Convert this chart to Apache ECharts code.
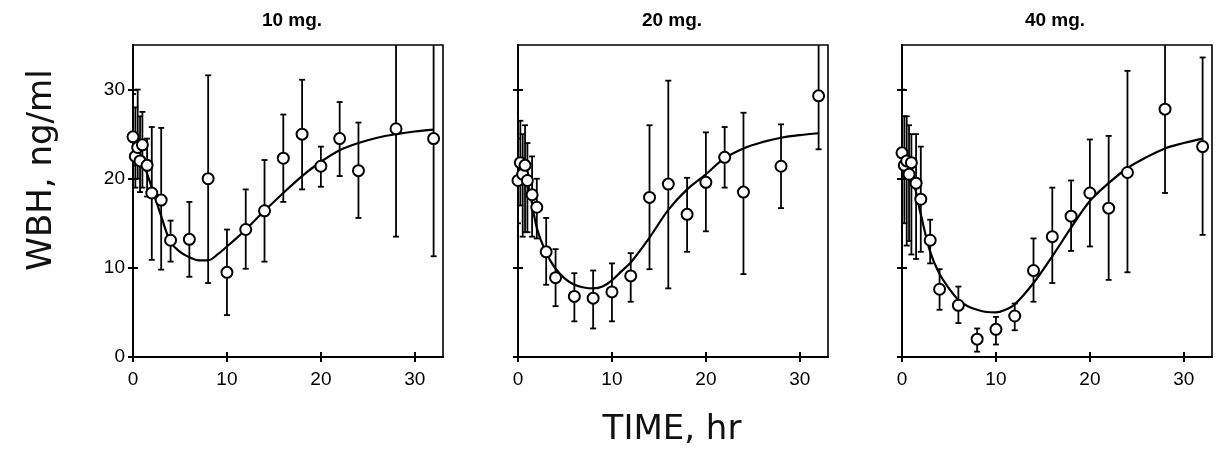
<!DOCTYPE html>
<html>
<head>
<meta charset="utf-8">
<script src="https://cdn.jsdelivr.net/npm/echarts@6/dist/echarts.min.js"></script>
<style>html,body{margin:0;padding:0;background:#fff;}#c{width:1220px;height:463px;}</style>
</head>
<body>
<div id="c"></div>
<script>
// ---- data ----
const panelTitles = ['10 mg.', '20 mg.', '40 mg.'];
const times = [0, 0.25, 0.5, 0.75, 1, 1.5, 2, 3, 4, 6, 8, 10, 12, 14, 16, 18, 20, 22, 24, 28, 32];

const mean10 = [24.7, 22.5, 23.5, 22.0, 23.8, 21.5, 18.4, 17.6, 13.1, 13.2, 20.0, 9.5, 14.3, 16.4, 22.3, 25.0, 21.4, 24.5, 20.9, 25.6, 24.5];
const lo10   = [21.5, 19.0, 20.0, 18.5, 19.0, 18.0, 10.9, 9.8, 10.7, 9.0, 8.3, 4.7, 9.9, 10.7, 17.4, 18.8, 19.1, 20.3, 15.6, 13.5, 11.3];
const hi10   = [29.5, 28.0, 30.0, 27.0, 27.5, 24.5, 25.8, 25.7, 15.3, 17.4, 31.6, 14.3, 18.8, 22.1, 27.2, 31.1, 23.6, 28.6, 26.3, 38.0, 38.0];

const mean20 = [19.8, 21.8, 20.5, 21.5, 19.8, 18.2, 16.8, 11.8, 8.9, 6.8, 6.6, 7.3, 9.1, 17.9, 19.4, 16.0, 19.6, 22.4, 18.5, 21.4, 29.3];
const lo20   = [15.0, 17.0, 13.5, 14.0, 14.0, 13.5, 13.3, 8.1, 5.7, 4.0, 3.2, 4.0, 6.2, 9.85, 7.7, 11.8, 14.1, 19.0, 9.3, 16.7, 23.3];
const hi20   = [24.5, 26.5, 25.0, 26.0, 24.0, 22.5, 20.0, 15.6, 12.1, 9.4, 9.7, 10.5, 11.65, 26.0, 31.0, 20.1, 25.2, 25.8, 27.4, 26.1, 38.0];

const mean40 = [22.9, 21.5, 22.0, 20.5, 21.8, 19.5, 17.7, 13.1, 7.6, 5.8, 2.0, 3.1, 4.6, 9.7, 13.5, 15.8, 18.4, 16.7, 20.7, 27.8, 23.6];
const lo40   = [20.0, 15.0, 12.5, 13.0, 11.5, 11.0, 11.8, 10.5, 5.3, 3.8, 0.6, 1.4, 3.0, 6.2, 8.3, 11.9, 12.4, 8.65, 9.5, 18.4, 13.7];
const hi40   = [30.0, 27.0, 27.0, 26.0, 25.0, 25.0, 23.6, 15.4, 9.85, 7.9, 3.2, 4.5, 6.0, 13.3, 19.0, 19.8, 24.4, 24.8, 32.1, 38.0, 33.6];

const curveT  = [0, 1, 2, 3, 4, 5, 6, 7, 8, 9, 10, 11, 12, 14, 16, 18, 20, 22, 24, 26, 28, 30, 32];
const curve10 = [24.2, 22.0, 19.0, 15.8, 12.9, 11.8, 11.2, 10.85, 10.85, 11.5, 12.4, 13.3, 14.3, 16.4, 18.4, 20.3, 21.9, 23.2, 24.0, 24.6, 25.0, 25.3, 25.5];
const curve20 = [21.0, 19.5, 14.5, 11.7, 9.9, 8.8, 8.1, 7.8, 7.7, 7.9, 8.6, 9.6, 10.6, 13.4, 16.5, 18.8, 20.5, 22.3, 23.4, 24.1, 24.6, 24.9, 25.1];
const curve40 = [22.5, 20.5, 16.0, 11.8, 9.3, 7.7, 6.4, 5.7, 5.3, 5.05, 5.0, 5.3, 5.9, 8.3, 11.3, 14.5, 17.5, 19.5, 21.2, 22.4, 23.4, 24.0, 24.5];

const xTicks = [0, 10, 20, 30];
const yTicks = [0, 10, 20, 30];

// ---- layout ----
const gridLefts = [133, 518, 902];
const GRID_TOP = 45, GRID_W = 310, GRID_H = 312;
const panels = [
  {mean: mean10, lo: lo10, hi: hi10, curve: curve10},
  {mean: mean20, lo: lo20, hi: hi20, curve: curve20},
  {mean: mean40, lo: lo40, hi: hi40, curve: curve40}
];
const FONT = 'Liberation Sans, Arial, sans-serif';

const grid = [], xAxis = [], yAxis = [], series = [];
panels.forEach((p, i) => {
  grid.push({left: gridLefts[i], top: GRID_TOP, width: GRID_W, height: GRID_H,
             show: true, borderColor: '#000', borderWidth: 1.6, backgroundColor: 'transparent'});
  const baseX = {gridIndex: i, type: 'value', min: 0, max: 33, interval: 10, position: 'bottom',
                 splitLine: {show: false}};
  xAxis.push(Object.assign({}, baseX, {
    axisLine: {show: true, onZero: false, lineStyle: {color: '#000', width: 2}},
    axisTick: {show: true, inside: false, length: 5, customValues: xTicks, lineStyle: {color: '#000', width: 2}},
    axisLabel: {show: true, margin: 13, fontSize: 19, color: '#000', fontFamily: FONT, customValues: xTicks}
  }));
  xAxis.push(Object.assign({}, baseX, {
    axisLine: {show: false},
    axisTick: {show: true, inside: true, length: 5, customValues: xTicks, lineStyle: {color: '#000', width: 2}},
    axisLabel: {show: false}
  }));
  const baseY = {gridIndex: i, type: 'value', min: 0, max: 35, interval: 10, position: 'left',
                 splitLine: {show: false}};
  yAxis.push(Object.assign({}, baseY, {
    axisLine: {show: true, onZero: false, lineStyle: {color: '#000', width: 2}},
    axisTick: {show: true, inside: false, length: 5, customValues: yTicks, lineStyle: {color: '#000', width: 2}},
    axisLabel: {show: i === 0, margin: 8, fontSize: 19, color: '#000', fontFamily: FONT, customValues: yTicks}
  }));
  yAxis.push(Object.assign({}, baseY, {
    axisLine: {show: false},
    axisTick: {show: true, inside: true, length: 5, customValues: yTicks, lineStyle: {color: '#000', width: 2}},
    axisLabel: {show: false}
  }));

  const xi = i * 2, yi = i * 2;
  series.push({
    type: 'custom', xAxisIndex: xi, yAxisIndex: yi, clip: true, z: 2,
    data: times.map((t, k) => [t, p.lo[k], p.hi[k]]),
    renderItem: (params, api) => {
      const a = api.coord([api.value(0), api.value(1)]);
      const b = api.coord([api.value(0), api.value(2)]);
      const w = 3;
      const st = {stroke: '#000', lineWidth: 1.8};
      return {type: 'group', children: [
        {type: 'line', shape: {x1: a[0], y1: a[1], x2: b[0], y2: b[1]}, style: st},
        {type: 'line', shape: {x1: a[0] - w, y1: a[1], x2: a[0] + w, y2: a[1]}, style: st},
        {type: 'line', shape: {x1: b[0] - w, y1: b[1], x2: b[0] + w, y2: b[1]}, style: st}
      ]};
    }
  });
  series.push({
    type: 'line', xAxisIndex: xi, yAxisIndex: yi, smooth: 0.35, symbol: 'none', z: 3,
    lineStyle: {color: '#000', width: 2.2},
    data: curveT.map((t, k) => [t, p.curve[k]])
  });
  series.push({
    type: 'scatter', xAxisIndex: xi, yAxisIndex: yi, symbol: 'circle', symbolSize: 11, z: 4,
    itemStyle: {color: '#fff', borderColor: '#000', borderWidth: 2, opacity: 1},
    data: times.map((t, k) => [t, p.mean[k]])
  });
});

const graphic = panelTitles.map((t, i) => ({
  type: 'text', x: gridLefts[i] + [159, 154, 153][i], y: 21,
  style: {text: t, align: 'center', verticalAlign: 'middle', fill: '#000',
          font: 'bold 19px ' + FONT}
}));
graphic.push({
  type: 'text', x: 42, y: 170, rotation: Math.PI / 2,
  style: {text: 'WBH, ng/ml', align: 'center', verticalAlign: 'middle', fill: '#111',
          font: '34px DejaVu Sans, sans-serif'}
});
graphic.push({
  type: 'text', x: 672, y: 430,
  style: {text: 'TIME, hr', align: 'center', verticalAlign: 'middle', fill: '#111',
          font: '34px DejaVu Sans, sans-serif'}
});

const chart = echarts.init(document.getElementById('c'), null, {renderer: 'canvas'});
chart.setOption({
  animation: false,
  backgroundColor: '#fff',
  grid, xAxis, yAxis, series, graphic
});
</script>
</body>
</html>
